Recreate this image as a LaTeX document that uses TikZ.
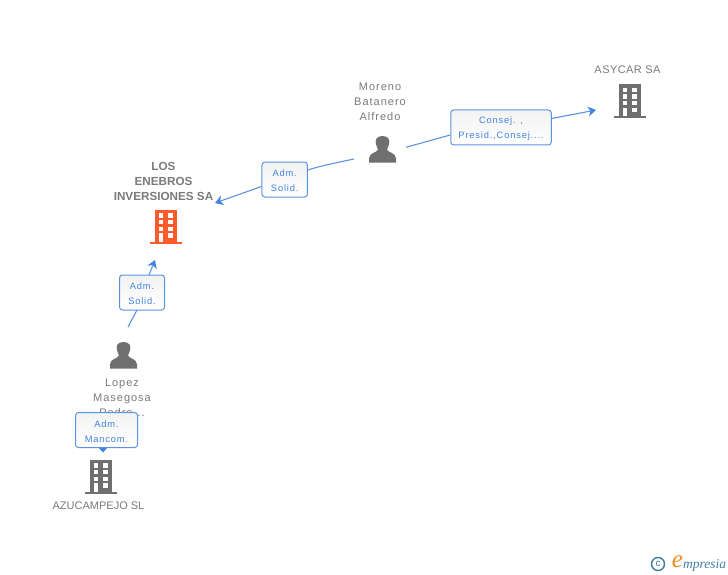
\documentclass[tikz,border=0pt]{standalone}
\usepackage{fontspec}
\setmainfont{Liberation Sans}
\newfontfamily\spaced[LetterSpace=9]{Liberation Sans}
\newfontfamily\spacedsmall[LetterSpace=4]{Liberation Sans}
\newfontfamily\plainlab{Liberation Sans}
\newfontfamily\logofont{Liberation Serif}
\usetikzlibrary{arrows.meta}
\definecolor{linkblue}{HTML}{3F83E0}
\definecolor{edgeblue}{HTML}{5B93E0}
\definecolor{labelgray}{HTML}{7A7A7A}
\definecolor{icongray}{HTML}{6F6F6F}
\definecolor{iconred}{HTML}{FF5A2B}
\definecolor{logoteal}{HTML}{3F7F9C}
\definecolor{logoorange}{HTML}{F08A1E}
\newcommand{\fs}{\rule{0pt}{9.2pt}}
\tikzset{
  x=1pt,y=-1pt,
  conn/.style={draw=edgeblue,line width=1.1pt},
  arr/.style={conn,-{Stealth[length=8pt,width=10pt,inset=2.5pt,color=linkblue]}},
  rolebox/.style={draw=edgeblue,line width=1pt,rounded corners=3pt,top color=gray!10,bottom color=white,
    minimum height=35pt,inner sep=0pt,align=center,text=linkblue,font=\spaced\fontsize{9.3}{15}\selectfont},
  lab/.style={align=center,text=labelgray,inner sep=0pt,font=\spaced\fontsize{11}{15}\selectfont},
  labb/.style={align=center,text=labelgray,inner sep=0pt,font=\plainlab\bfseries\fontsize{11.7}{15}\selectfont},
  pics/building/.style={code={
    \fill[#1] (-11,0) rectangle (11.3,31.5);
    \fill[#1] (-16,31.5) rectangle (16,33.5);
    \foreach \yy in {3.3,10,16.7}{
      \fill[white] (-7.3,\yy) rectangle (-2.7,\yy+4.3);
      \fill[white] (2.3,\yy) rectangle (7.3,\yy+4.3);
    }
    \fill[white] (-7.3,23.3) rectangle (-2.7,31.5);
    \fill[white] (2.3,23.3) rectangle (7.3,27.6);
  }},
  pics/person/.style={code={
    \fill[icongray] (0,0) .. controls (-6.5,0) and (-7.5,4.5) .. (-6.5,8)
      .. controls (-6,10.5) and (-5,12) .. (-4.5,13.5)
      .. controls (-5,16.5) and (-13.5,16.5) .. (-13.5,22.5) -- (-13.5,26.7) -- (13.5,26.7) -- (13.5,22.5)
      .. controls (13.5,16.5) and (5,16.5) .. (4.5,13.5)
      .. controls (5,12) and (6,10.5) .. (6.5,8)
      .. controls (7.5,4.5) and (6.5,0) .. (0,0) -- cycle;
  }}
}
\begin{document}
\begin{tikzpicture}
\useasboundingbox (0,0) rectangle (728,575);
% icons
\path (630,84.3) pic {building={icongray}};
\path (166,210) pic {building={iconred}};
\path (101,460) pic {building={icongray}};
\path (382.5,136) pic {person};
\path (123.5,342) pic {person};
% labels
\node[lab,font=\spacedsmall\fontsize{11}{15}\selectfont] (asycar) at (627.5,70) {ASYCAR SA};
\node[lab] (moreno) at (380,102) {Moreno\\Batanero\\Alfredo};
\node[labb] (enebros) at (163.5,181) {LOS\\ENEBROS\\INVERSIONES SA};
\node[lab] (lopez) at (122,398) {Lopez\\Masegosa\\Pedro...};
\node[lab,font=\plainlab\fontsize{11}{15}\selectfont] (azuca) at (98.5,506) {AZUCAMPEJO SL};
% connector ends
\coordinate (m1) at (406,147.3);
\coordinate (a1) at (596,110);
\coordinate (m2) at (354,159);
\coordinate (a2) at (215,203);
\coordinate (l1) at (128,327);
\coordinate (a3) at (155,260);
\coordinate (a4) at (103,452.5);
% boxes
\node[rolebox,minimum width=100.5pt] (b1) at (501,127.5) {\fs Consej. ,\\Presid.,Consej....};
\node[rolebox,minimum width=45.5pt] (b2) at (284.7,179.5) {\fs Adm.\\Solid.};
\node[rolebox,minimum width=45pt] (b3) at (142,292.5) {\fs Adm.\\Solid.};
\node[rolebox,minimum width=62pt] (b4) at (106.5,430) {\fs Adm.\\Mancom.};
% connectors
\draw[conn] (m1) -- (b1.west |- 0,135);
\draw[arr] (b1.east |- 0,118.5) -- (a1);
\draw[conn] (m2) .. controls (335,163) and (320,166) .. (b2.east |- 0,170);
\draw[arr] (b2.west |- 0,186.5) -- (a2);
\draw[conn] (l1) -- (137,310);
\draw[arr] (149,275) -- (a3);
\fill[linkblue] (99,448) -- (107,448) -- (a4) -- cycle;
% logo
\node[draw=logoteal,circle,line width=1.4pt,minimum size=13pt,inner sep=0pt,text=logoteal,font=\fontsize{10}{10}\selectfont] (copy) at (658,564) {c};
\node[text=logoorange,inner sep=0pt,font=\logofont\itshape\fontsize{25}{25}\selectfont] (loge) at (677.5,562) {e};
\node[text=logoteal,inner sep=0pt,anchor=west,font=\logofont\itshape\fontsize{13.5}{13.5}\selectfont] (logt) at (683,565) {mpresia};
\end{tikzpicture}
\end{document}
